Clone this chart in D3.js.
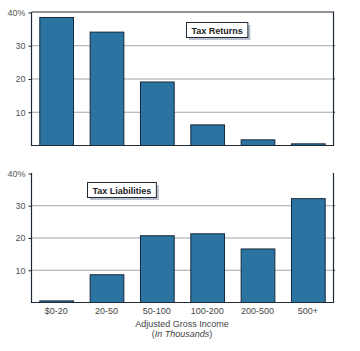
<!DOCTYPE html>
<html>
<head>
<meta charset="utf-8">
<script src="https://cdn.jsdelivr.net/npm/d3@7"></script>
<style>
    body { margin: 0; background: #fff; }
    text { font-family: "Liberation Sans", Arial, sans-serif; }
</style>
</head>
<body>
<div id="chart"></div>
<script>
// income brackets (thousands of dollars)
const categories = ["$0-20", "20-50", "50-100", "100-200", "200-500", "500+"];
// share of returns, percent
const returnsValues = [38.5, 34.1, 19.1, 6.2, 1.7, 0.5];
// share of liabilities, percent
const liabilityValues = [0.5, 8.6, 20.7, 21.3, 16.6, 32.2];
const yTicks = [10, 20, 30, 40];

const width = 360, height = 351;
const left = 31, right = 333;

const svg = d3.select("#chart").append("svg")
    .attr("width", width)
    .attr("height", height);

const x = d3.scaleBand()
    .domain(categories)
    .range([left, right])
    .paddingInner(0.33)
    .paddingOuter(0.165);

// draw one panel
function drawPanel(values, top, bottom, label, labelX, labelY, topBorder) {
    let y = d3.scaleLinear().domain([0, 40]).range([bottom, top]);
    let g = svg.append("g");

    // gridlines
    g.selectAll(".grid")
        .data(yTicks.slice(0, 3))
        .enter().append("line")
        .attr("x1", left).attr("x2", right)
        .attr("y1", d => y(d) + 0.5).attr("y2", d => y(d) + 0.5)
        .attr("stroke", "#9ea7b0")
        .attr("stroke-width", 1);

    // bars
    g.selectAll(".bar")
        .data(values)
        .enter().append("rect")
        .attr("x", (d, i) => x(categories[i]) + 0.5)
        .attr("y", d => y(d) + 0.5)
        .attr("width", x.bandwidth())
        .attr("height", d => bottom - y(d))
        .attr("fill", "#2b73a0")
        .attr("stroke", "#16283a")
        .attr("stroke-width", 1);

    // left axis
    let axis = d3.axisLeft(y).tickValues(yTicks).tickSize(3).tickPadding(3)
        .tickFormat(d => d === 40 ? "40%" : d);
    let ax = g.append("g")
        .attr("transform", `translate(${left + 0.5},0.5)`)
        .call(axis);
    ax.select(".domain").remove();
    ax.selectAll("line").attr("stroke", "#1e2a36");
    ax.selectAll("text")
        .attr("fill", "#555")
        .style("font-size", "9px");

    // right ticks
    g.selectAll(".rtick")
        .data(yTicks.slice(0, 3))
        .enter().append("line")
        .attr("x1", right).attr("x2", right + 2)
        .attr("y1", d => y(d) + 0.5).attr("y2", d => y(d) + 0.5)
        .attr("stroke", "#1e2a36");

    // frame
    let frame = `M${left + 0.5},${top} V${bottom + 0.5} H${right + 0.5} V${top}`;
    if (topBorder) frame += ` H${left + 0.5}`;
    g.append("path")
        .attr("d", frame)
        .attr("fill", "none")
        .attr("stroke", "#1e2a36")
        .attr("stroke-width", 1.2);

    // label box with shadow
    let tmp = g.append("text").style("font-size", "9px").style("font-weight", "bold").text(label);
    let tw = tmp.node().getComputedTextLength();
    tmp.remove();
    let bw = tw + 10, bh = 15;
    g.append("rect")
        .attr("x", labelX + 3).attr("y", labelY + 3)
        .attr("width", bw).attr("height", bh)
        .attr("fill", "#b9bfcd");
    g.append("rect")
        .attr("x", labelX + 0.5).attr("y", labelY + 0.5)
        .attr("width", bw).attr("height", bh)
        .attr("fill", "#fff")
        .attr("stroke", "#1e2a36");
    g.append("text")
        .attr("x", labelX + 0.5 + bw / 2)
        .attr("y", labelY + bh / 2 + 4)
        .attr("text-anchor", "middle")
        .style("font-size", "9px")
        .style("font-weight", "bold")
        .attr("fill", "#222")
        .text(label);
    return g;
}

drawPanel(returnsValues, 12, 145, "Tax Returns", 186, 22, true);
drawPanel(liabilityValues, 173, 302, "Tax Liabilities", 87, 182, false);

// x labels
svg.selectAll(".xlab")
    .data(categories)
    .enter().append("text")
    .attr("x", d => x(d) + x.bandwidth() / 2)
    .attr("y", 314)
    .attr("text-anchor", "middle")
    .style("font-size", "9px")
    .attr("fill", "#444")
    .text(d => d);

svg.append("text")
    .attr("x", 182).attr("y", 326.5)
    .attr("text-anchor", "middle")
    .style("font-size", "9px")
    .attr("fill", "#444")
    .text("Adjusted Gross Income");

let sub = svg.append("text")
    .attr("x", 182).attr("y", 337)
    .attr("text-anchor", "middle")
    .style("font-size", "9px")
    .attr("fill", "#444");
sub.append("tspan").text("(");
sub.append("tspan").style("font-style", "italic").text("In Thousands");
sub.append("tspan").text(")");
</script>
</body>
</html>
